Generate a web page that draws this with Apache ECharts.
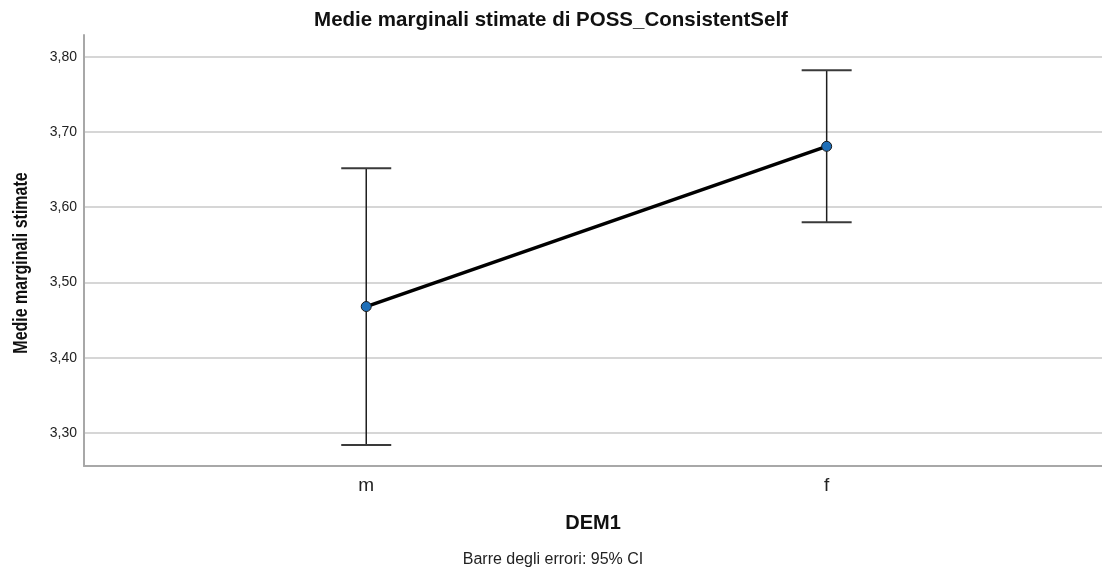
<!DOCTYPE html>
<html>
<head>
<meta charset="utf-8">
<script src="https://cdn.jsdelivr.net/npm/echarts@6/dist/echarts.min.js"></script>
<style>
  html, body { margin: 0; padding: 0; background: #fff; }
  #main { width: 1102px; height: 570px; }
</style>
</head>
<body>
<div id="main"></div>
<script>
  // valori
  var categories = ['m', 'f'];
  var means = [3.468, 3.681];
  var ciLower = [3.284, 3.580];
  var ciUpper = [3.652, 3.782];
  var yTicks = [3.3, 3.4, 3.5, 3.6, 3.7, 3.8];

  var font = '"Liberation Sans", Arial, sans-serif';

  var lineData = means.map(function (v, i) { return [i, v]; });
  var barData = means.map(function (v, i) { return [i, ciLower[i], ciUpper[i]]; });

  var myChart = echarts.init(document.getElementById('main'));

  myChart.setOption({
    animation: false,
    backgroundColor: '#fff',
    title: {
      text: 'Medie marginali stimate di POSS_ConsistentSelf',
      left: 'center',
      top: 10,
      padding: 0,
      textStyle: { fontFamily: font, fontSize: 20.5, fontWeight: 'bold', color: '#111' }
    },
    graphic: [
      {
        // titolo asse y, compresso come nell'originale
        type: 'text',
        x: 21,
        y: 263,
        rotation: Math.PI / 2,
        scaleX: 0.8,
        style: {
          text: 'Medie marginali stimate',
          fontFamily: font, fontSize: 20, fontWeight: 'bold', fill: '#111',
          align: 'center', verticalAlign: 'middle'
        }
      },
      {
        type: 'text',
        x: 553,
        y: 560,
        style: {
          text: 'Barre degli errori: 95% CI',
          fontFamily: font, fontSize: 16, fill: '#222',
          align: 'center', verticalAlign: 'middle'
        }
      }
    ],
    grid: { left: 84, right: 0, top: 35, bottom: 104 },
    xAxis: {
      type: 'value',
      min: -0.613,
      max: 1.598,
      name: 'DEM1',
      nameLocation: 'middle',
      nameGap: 47,
      nameTextStyle: { fontFamily: font, fontSize: 20, fontWeight: 'bold', color: '#111' },
      axisLine: { show: true, onZero: false, lineStyle: { color: '#a8a8a8', width: 2 } },
      axisTick: { show: false, customValues: [0, 1] },
      splitLine: { show: false },
      axisLabel: {
        customValues: [0, 1],
        margin: 10,
        fontFamily: font,
        fontSize: 19,
        color: '#222',
        formatter: function (v) { return categories[Math.round(v)]; }
      }
    },
    yAxis: {
      type: 'value',
      min: 3.256,
      max: 3.829,
      axisLine: { show: true, onZero: false, lineStyle: { color: '#a8a8a8', width: 2 } },
      axisTick: { show: false, customValues: yTicks },
      splitLine: { show: true, lineStyle: { color: '#c8c8c8', width: 1.5 } },
      axisLabel: {
        customValues: yTicks,
        margin: 7,
        fontFamily: font,
        fontSize: 14,
        color: '#222',
        formatter: function (v) { return v.toFixed(2).replace('.', ','); }
      }
    },
    series: [
      {
        type: 'custom',
        z: 2,
        data: barData,
        renderItem: function (params, api) {
          var x = api.value(0);
          var lo = api.coord([x, api.value(1)]);
          var hi = api.coord([x, api.value(2)]);
          var cap = 25;
          return {
            type: 'group',
            children: [
              { type: 'line', shape: { x1: lo[0], y1: lo[1], x2: hi[0], y2: hi[1] }, style: { stroke: '#1e1e1e', lineWidth: 1.5 } },
              { type: 'line', shape: { x1: hi[0] - cap, y1: hi[1], x2: hi[0] + cap, y2: hi[1] }, style: { stroke: '#3a3a3a', lineWidth: 2 } },
              { type: 'line', shape: { x1: lo[0] - cap, y1: lo[1], x2: lo[0] + cap, y2: lo[1] }, style: { stroke: '#3a3a3a', lineWidth: 2 } }
            ]
          };
        }
      },
      {
        type: 'line',
        z: 3,
        data: lineData,
        symbol: 'circle',
        symbolSize: 10,
        lineStyle: { color: '#000', width: 3.5 },
        itemStyle: { color: '#1f6fb8', borderColor: '#1a1a1a', borderWidth: 1 }
      }
    ]
  });
</script>
</body>
</html>
